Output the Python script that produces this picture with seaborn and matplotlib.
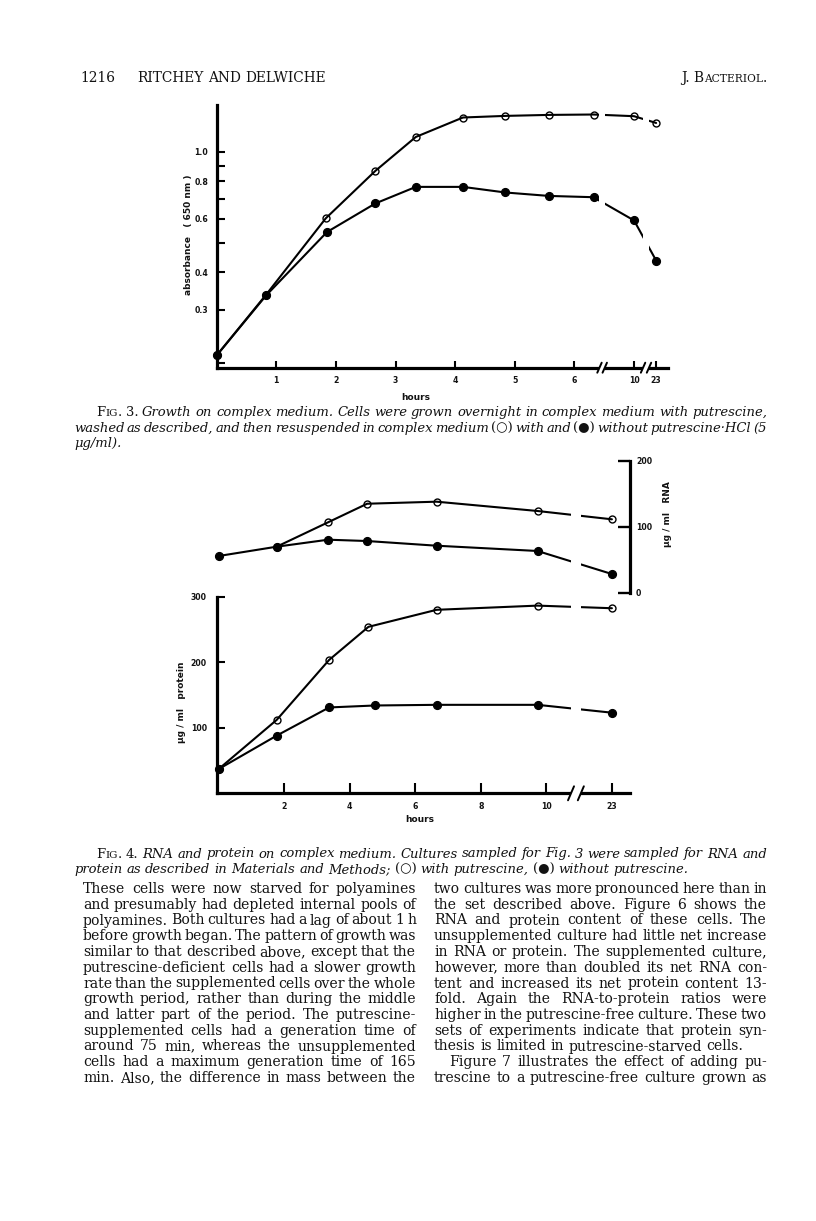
import numpy as np
import pandas as pd
import matplotlib
matplotlib.use("Agg")
import matplotlib.pyplot as plt
import seaborn as sns
from matplotlib.font_manager import FontProperties
from matplotlib.lines import Line2D
from matplotlib.ticker import NullLocator

# ---------------- data ----------------
# Fig. 3 - absorbance (650 nm) vs hours
fig3_hours_with = [0, 0.83, 1.83, 2.66, 3.34, 4.13, 4.84, 5.57, 6.32, 10, 23]
fig3_abs_with = [0.212, 0.337, 0.603, 0.865, 1.121, 1.300, 1.316, 1.326, 1.330, 1.313, 1.247]
fig3_hours_without = [0, 0.83, 1.85, 2.66, 3.34, 4.13, 4.84, 5.57, 6.32, 10, 23]
fig3_abs_without = [0.212, 0.335, 0.543, 0.675, 0.766, 0.766, 0.734, 0.715, 0.708, 0.593, 0.437]
fig3_xticks = [1, 2, 3, 4, 5, 6, 10, 23]
fig3_xtick_labels = ["1", "2", "3", "4", "5", "6", "10", "23"]
fig3_yticks = [0.2, 0.3, 0.4, 0.5, 0.6, 0.7, 0.8, 0.9, 1.0]
fig3_ytick_labels = ["", "0.3", "0.4", "", "0.6", "", "0.8", "", "1.0"]

# Fig. 4 - RNA and protein vs hours
rna_hours_with = [1.77, 3.34, 4.53, 6.65, 9.73, 23]
rna_with = [69.7, 106.7, 134.8, 137.9, 123.8, 111.2]
rna_hours_without = [0, 1.77, 3.34, 4.53, 6.65, 9.73, 23]
rna_without = [55.6, 69.7, 80.3, 78.3, 71.2, 63.2, 28.3]
protein_hours_with = [0, 1.77, 3.37, 4.57, 6.65, 9.73, 23]
protein_with = [37, 112, 203.5, 254, 280, 286.4, 282.4]
protein_hours_without = [0, 1.77, 3.37, 4.77, 6.65, 9.73, 23]
protein_without = [37, 88, 131, 134, 135, 135, 123]
fig4_xticks = [2, 4, 6, 8, 10, 23]
fig4_xtick_labels = ["2", "4", "6", "8", "10", "23"]
protein_yticks = [100, 200, 300]
protein_ytick_labels = ["100", "200", "300"]
rna_yticks = [0, 100, 200]
rna_ytick_labels = ["0", "100", "200"]

# ---------------- page text ----------------
header_left_num = "1216"
header_left_names = "RITCHEY AND DELWICHE"
fig3_caption = [
    [("F", "u"), ("IG", "usc"), (". 3. ", "u"),
     ("Growth on complex medium. Cells were grown overnight in complex medium with putrescine,", "i")],
    [("washed as described, and then resuspended in complex medium ", "i"), ("(○)", "u"),
     (" with and ", "i"), ("(●)", "u"), (" without putrescine·HCl (5", "i")],
    [("μg/ml).", "i")],
]
fig4_caption = [
    [("F", "u"), ("IG", "usc"), (". 4. ", "u"),
     ("RNA and protein on complex medium. Cultures sampled for Fig. 3 were sampled for RNA and", "i")],
    [("protein as described in Materials and Methods; ", "i"), ("(○)", "u"),
     (" with putrescine, ", "i"), ("(●)", "u"), (" without putrescine.", "i")],
]
body_left = [
    "These cells were now starved for polyamines",
    "and presumably had depleted internal pools of",
    "polyamines. Both cultures had a lag of about 1 h",
    "before growth began. The pattern of growth was",
    "similar to that described above, except that the",
    "putrescine-deficient cells had a slower growth",
    "rate than the supplemented cells over the whole",
    "growth period, rather than during the middle",
    "and latter part of the period. The putrescine-",
    "supplemented cells had a generation time of",
    "around 75 min, whereas the unsupplemented",
    "cells had a maximum generation time of 165",
    "min. Also, the difference in mass between the",
]
body_right = [
    "two cultures was more pronounced here than in",
    "the set described above. Figure 6 shows the",
    "RNA and protein content of these cells. The",
    "unsupplemented culture had little net increase",
    "in RNA or protein. The supplemented culture,",
    "however, more than doubled its net RNA con-",
    "tent and increased its net protein content 13-",
    "fold. Again the RNA-to-protein ratios were",
    "higher in the putrescine-free culture. These two",
    "sets of experiments indicate that protein syn-",
    "thesis is limited in putrescine-starved cells.",
    "Figure 7 illustrates the effect of adding pu-",
    "trescine to a putrescine-free culture grown as",
]
body_right_unjustified = {10}
body_right_indented = {11}

# ---------------- theme ----------------
sns.set_theme(style="white")
plt.rcParams["font.family"] = ["DejaVu Sans"]
plt.rcParams["axes.edgecolor"] = "black"
plt.rcParams["xtick.color"] = "black"
plt.rcParams["ytick.color"] = "black"

W, H = 816, 1221
fig = plt.figure(figsize=(W / 100, H / 100), dpi=100)
fig.patch.set_facecolor("white")
renderer = fig.canvas.get_renderer()
INK = "#121212"


def rect(left, top, right, bottom):
    return [left / W, 1 - bottom / H, (right - left) / W, (bottom - top) / H]


def piecewise_scale(knots_h, knots_p):
    kh = np.asarray(knots_h, float)
    kp = np.asarray(knots_p, float)
    return (lambda h: np.interp(h, kh, kp)), (lambda p: np.interp(p, kp, kh))


def plot_series(ax, hours, values, filled):
    df = pd.DataFrame({"hours": hours, "value": values})
    sns.lineplot(data=df, x="hours", y="value", ax=ax, estimator=None, sort=False,
                 color="black", linewidth=1.5, marker="o",
                 markersize=5.6 if filled else 5.0,
                 markerfacecolor="black" if filled else "none",
                 markeredgecolor="black", markeredgewidth=1.0,
                 clip_on=False, zorder=3)
    ax.set_xlabel("")
    ax.set_ylabel("")


def draw_break(ax, h_lo, h_hi, slash=True, dy=6, dx=2.5):
    ax.axvspan(h_lo, h_hi, ymin=-0.015, ymax=1.0, facecolor="white",
               edgecolor="none", zorder=4, clip_on=False)
    if not slash:
        return
    to_fig = fig.transFigure.inverted()
    y0 = ax.get_ylim()[0]
    for h in (h_lo, h_hi):
        px, py = ax.transData.transform((h, y0))
        (xa, ya), (xb, yb) = to_fig.transform([(px - dx, py - dy), (px + dx, py + dy)])
        fig.add_artist(Line2D([xa, xb], [ya, yb], color="black", lw=1.4, zorder=6))


def style_axes(ax, xlen, ylen, xpad, ypad):
    for side in ("top", "right"):
        ax.spines[side].set_visible(False)
    for side in ("left", "bottom"):
        ax.spines[side].set_linewidth(2.3)
        ax.spines[side].set_color("black")
    ax.tick_params(axis="x", which="major", bottom=True, top=False, direction="in",
                   length=xlen, width=1.5, pad=xpad, color="black")
    ax.tick_params(axis="y", which="major", left=True, right=False, direction="in",
                   length=ylen, width=1.5, pad=ypad, color="black")
    ax.patch.set_alpha(0)
    ax.grid(False)


tick_font = dict(fontsize=5.6, fontweight="bold", family="DejaVu Sans", color=INK)

# ---------------- Fig. 3 ----------------
ax3 = fig.add_axes(rect(216.7, 105, 668, 367.7))
plot_series(ax3, fig3_hours_with, fig3_abs_with, filled=False)
plot_series(ax3, fig3_hours_without, fig3_abs_without, filled=True)
f3_fwd, f3_inv = piecewise_scale([-5, 6.5, 10, 23, 60],
                                 [-5, 6.5, 7.0, 7.37, 7.37 + 37 * 0.37 / 13])
ax3.set_xscale("function", functions=(f3_fwd, f3_inv))
ax3.set_yscale("log")
ax3.set_xlim(0, 30.0)
ax3.set_ylim(0.193, 1.43)
ax3.set_xticks(fig3_xticks, labels=fig3_xtick_labels, **tick_font)
ax3.set_yticks(fig3_yticks, labels=fig3_ytick_labels, **tick_font)
ax3.yaxis.set_minor_locator(NullLocator())
ax3.xaxis.set_minor_locator(NullLocator())
style_axes(ax3, 5.0, 5.5, 6.3, 6.0)
draw_break(ax3, 6.42, 6.56, dy=5, dx=2.2)
draw_break(ax3, 15.3, 18.8, dy=5, dx=2.2)

# ---------------- Fig. 4 protein ----------------
f4_fwd, f4_inv = piecewise_scale([-5, 10.5, 23, 60],
                                 [-5, 10.5, 12.0, 12.0 + 37 * 1.5 / 12.5])
ax4p = fig.add_axes(rect(216.7, 596.7, 630, 793.3))
plot_series(ax4p, protein_hours_with, protein_with, filled=False)
plot_series(ax4p, protein_hours_without, protein_without, filled=True)
ax4p.set_xscale("function", functions=(f4_fwd, f4_inv))
ax4p.set_xlim(-0.06, 27.6)
ax4p.set_ylim(0, 300)
ax4p.set_xticks(fig4_xticks, labels=fig4_xtick_labels, **tick_font)
ax4p.set_yticks(protein_yticks, labels=protein_ytick_labels, **tick_font)
ax4p.xaxis.set_minor_locator(NullLocator())
ax4p.yaxis.set_minor_locator(NullLocator())
style_axes(ax4p, 7.2, 5.5, 6.0, 7.0)
draw_break(ax4p, 12.6, 15.1, dy=7, dx=3)

# ---------------- Fig. 4 RNA ----------------
ax4r = fig.add_axes(rect(216.7, 460.7, 630, 592.7))
plot_series(ax4r, rna_hours_with, rna_with, filled=False)
plot_series(ax4r, rna_hours_without, rna_without, filled=True)
ax4r.set_xscale("function", functions=(f4_fwd, f4_inv))
ax4r.set_xlim(-0.06, 27.6)
ax4r.set_ylim(0, 200)
for side in ("left", "top", "bottom"):
    ax4r.spines[side].set_visible(False)
ax4r.spines["right"].set_linewidth(2.3)
ax4r.spines["right"].set_color("black")
ax4r.yaxis.tick_right()
ax4r.set_xticks([])
ax4r.set_yticks(rna_yticks, labels=rna_ytick_labels, **tick_font)
ax4r.yaxis.set_minor_locator(NullLocator())
ax4r.tick_params(axis="y", which="major", left=False, right=True, labelleft=False,
                 labelright=True, direction="in", length=8.5, width=1.7, pad=4.3,
                 color="black")
ax4r.patch.set_alpha(0)
ax4r.grid(False)
draw_break(ax4r, 12.6, 15.1, slash=False)

# ---------------- axis labels ----------------
lab_fp = FontProperties(family="DejaVu Sans", weight="bold", size=6.5)
fig.text(188 / W, 1 - 235 / H, "absorbance   ( 650 nm )", rotation=90, ha="center",
         va="center", fontproperties=lab_fp, color=INK)
fig.text(416 / W, 1 - 397 / H, "hours", ha="center", va="center", fontproperties=lab_fp, color=INK)
fig.text(182 / W, 1 - 702 / H, "μg / ml   protein", rotation=90, ha="center",
         va="center", fontproperties=lab_fp, color=INK)
fig.text(667 / W, 1 - 514 / H, "μg / ml   RNA", rotation=90, ha="center",
         va="center", fontproperties=lab_fp, color=INK)
fig.text(420 / W, 1 - 820 / H, "hours", ha="center", va="center", fontproperties=lab_fp, color=INK)

# ---------------- page text layout helpers ----------------
FAM = ["DejaVu Serif", "DejaVu Sans"]


def fprops(style, size):
    if style == "i":
        return FontProperties(family=FAM, style="italic", weight="normal", size=size)
    if style == "usc":
        return FontProperties(family=FAM, style="normal", weight="normal", size=size * 0.78)
    return FontProperties(family=FAM, style="normal", weight="normal", size=size)


def text_width(s, fp):
    w, _, _ = renderer.get_text_width_height_descent(s, fp, ismath=False)
    return w


def space_width(size):
    fp = fprops("u", size)
    return text_width("n n", fp) - text_width("nn", fp)


def tokens_of(pieces):
    toks = [[]]
    for txt, st in pieces:
        parts = txt.split(" ")
        for i, p in enumerate(parts):
            if i > 0:
                toks.append([])
            if p:
                toks[-1].append((p, st))
    return [t for t in toks if t]


def words_width(pieces, size):
    toks = tokens_of(pieces)
    return sum(text_width(s, fprops(st, size)) for t in toks for s, st in t), len(toks) - 1


def natural_width(pieces, size):
    ws, n = words_width(pieces, size)
    return ws + n * space_width(size)


def fit_size(lines, avail, base=9.0, min_space=0.8):
    sp = space_width(base)
    sizes = []
    for p, a in zip(lines, avail):
        ws, n = words_width(p, base)
        sizes.append(base * a / (ws + n * min_space * sp))
    return float(min(sizes))


def draw_line(pieces, x0, x1, y, size, justify):
    toks = tokens_of(pieces)
    widths = [sum(text_width(s, fprops(st, size)) for s, st in t) for t in toks]
    if justify and len(toks) > 1:
        gap = (x1 - x0 - sum(widths)) / (len(toks) - 1)
    else:
        gap = space_width(size)
    x = x0
    for t, w in zip(toks, widths):
        xx = x
        for s, st in t:
            fp = fprops(st, size)
            fig.text(xx / W, 1 - y / H, s, fontproperties=fp, ha="left", va="baseline", color=INK)
            xx += text_width(s, fp)
        x += w + gap


# ---------------- header ----------------
HL, HR = 80, 767
hsize = 9.5 * 190 / natural_width([(header_left_names, "u")], 9.5)
draw_line([(header_left_num, "u")], HL, HR, 82, hsize, False)
draw_line([(header_left_names, "u")], 137, HR, 82, hsize, False)
jb = [("J. B", "u"), ("ACTERIOL", "usc"), (".", "u")]
draw_line(jb, HR - natural_width(jb, hsize), HR, 82, hsize, False)

# ---------------- captions ----------------
CL, CR, CIND = 74, 767, 96
cap_size = fit_size([fig3_caption[0], fig3_caption[1], fig4_caption[0]],
                    [CR - CIND, CR - CL, CR - CIND], min_space=0.6)
for i, (pieces, yb) in enumerate(zip(fig3_caption, [416, 431.75, 447.5])):
    draw_line(pieces, CIND if i == 0 else CL, CR, yb, cap_size, justify=(i < 2))
for i, (pieces, yb) in enumerate(zip(fig4_caption, [857.5, 873.25])):
    draw_line(pieces, CIND if i == 0 else CL, CR, yb, cap_size, justify=(i < 1))

# ---------------- body text ----------------
LX0, LX1, RX0, RX1 = 83, 416, 434, 767
IND = 15
left_p = [[(s, "u")] for s in body_left]
right_p = [[(s, "u")] for s in body_right]
just_lines = left_p + [p for i, p in enumerate(right_p) if i not in body_right_unjustified]
just_av = [LX1 - LX0] * len(left_p) + [
    (RX1 - RX0 - (IND if i in body_right_indented else 0))
    for i in range(len(right_p)) if i not in body_right_unjustified]
body_size = fit_size(just_lines, just_av, min_space=0.55)
for i, p in enumerate(left_p):
    draw_line(p, LX0, LX1, 893 + 15.75 * i, body_size, True)
for i, p in enumerate(right_p):
    x0 = RX0 + (IND if i in body_right_indented else 0)
    draw_line(p, x0, RX1, 893 + 15.75 * i, body_size, i not in body_right_unjustified)

fig.savefig("out.png", dpi=100, facecolor="white")
